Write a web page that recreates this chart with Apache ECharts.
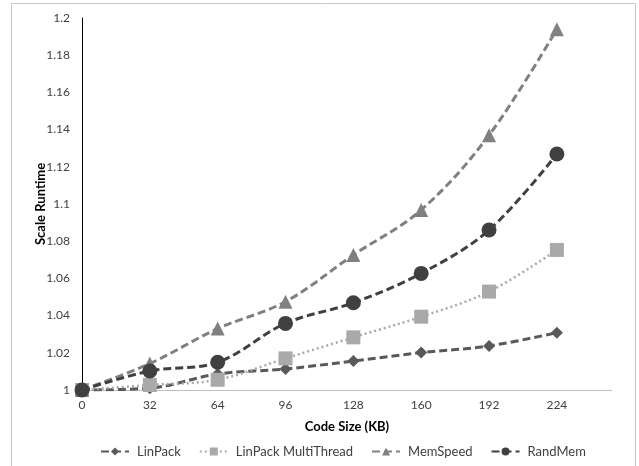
<!DOCTYPE html>
<html><head><meta charset="utf-8">
<script src="https://cdn.jsdelivr.net/npm/echarts@6/dist/echarts.min.js"></script>
<style>html,body{margin:0;padding:0;background:#fff}#c{width:639px;height:466px}</style>
</head><body><div id="c"></div>
<script>
const codeSizes = [0, 32, 64, 96, 128, 160, 192, 224];
const linPack = [1.0, 1.001, 1.0086, 1.0113, 1.0156, 1.0201, 1.0237, 1.0308];
const linPackMT = [1.0, 1.0027, 1.0055, 1.017, 1.0283, 1.0394, 1.0529, 1.0753];
const memSpeed = [1.0, 1.0142, 1.0330, 1.0475, 1.0726, 1.0968, 1.1370, 1.1940];
const randMem = [1.0, 1.0102, 1.0149, 1.0358, 1.0469, 1.0627, 1.0860, 1.1269];
const seriesNames = ['LinPack', 'LinPack MultiThread', 'MemSpeed', 'RandMem'];

const font = 'Lato, "Open Sans", sans-serif';
const pair = arr => codeSizes.map((x, i) => [x, arr[i]]);
const mk = (name, data, color, symbol, size, type, width, cap) => ({
  name, type: 'line', data: pair(data), smooth: 0.35,
  symbol, symbolSize: size,
  itemStyle: { color: color },
  lineStyle: { color: color, type: type, width: width, cap: cap || 'butt' },
  emphasis: { disabled: true }
});

const chart = echarts.init(document.getElementById('c'), null, { renderer: 'canvas' });
chart.setOption({
  animation: false,
  backgroundColor: '#fff',
  graphic: [{
    type: 'rect', shape: { x: 11.5, y: 3.5, width: 624, height: 480 },
    style: { fill: 'none', stroke: '#c8c8c8', lineWidth: 1 }, silent: true
  }],
  grid: { left: 82, top: 18, right: 27, bottom: 76, containLabel: false },
  legend: {
    left: 95, top: 440, itemWidth: 28, itemHeight: 10, itemGap: 18,
    textStyle: { fontFamily: font, fontSize: 13, color: '#404040', padding: [0, 0, 0, 3] },
    data: seriesNames
  },
  xAxis: {
    type: 'value', min: 0, max: 250, interval: 32,
    name: 'Code Size (KB)', nameLocation: 'middle', nameGap: 30, nameMoveOverlap: false,
    nameTextStyle: { fontFamily: font, fontSize: 13, fontWeight: 'bold', color: '#000' },
    axisLine: { show: true, lineStyle: { color: '#bfbfbf', width: 1 } },
    axisTick: { show: false },
    splitLine: { show: false },
    axisLabel: { fontFamily: font, fontSize: 12, color: '#404040', margin: 9, showMaxLabel: false,
      formatter: v => (v % 32 === 0 ? String(v) : '') }
  },
  yAxis: {
    type: 'value', min: 1, max: 1.2, interval: 0.02,
    name: 'Scale Runtime', nameLocation: 'middle', nameGap: 35, nameMoveOverlap: false,
    nameTextStyle: { fontFamily: font, fontSize: 13, fontWeight: 'bold', color: '#000' },
    axisLine: { show: true, lineStyle: { color: '#000', width: 1 } },
    axisTick: { show: false },
    splitLine: { show: false },
    axisLabel: { fontFamily: font, fontSize: 12, color: '#404040', margin: 12,
      formatter: v => String(parseFloat(v.toFixed(2))) }
  },
  series: [
    mk('LinPack', linPack, '#595959', 'diamond', 12, [8, 4], 3),
    mk('LinPack MultiThread', linPackMT, '#a9a9a9', 'rect', 14, [2, 3], 2.5),
    mk('MemSpeed', memSpeed, '#808080', 'triangle', 14, [8, 4], 3),
    mk('RandMem', randMem, '#404040', 'circle', 15, [8, 4], 3)
  ]
});
</script></body></html>
